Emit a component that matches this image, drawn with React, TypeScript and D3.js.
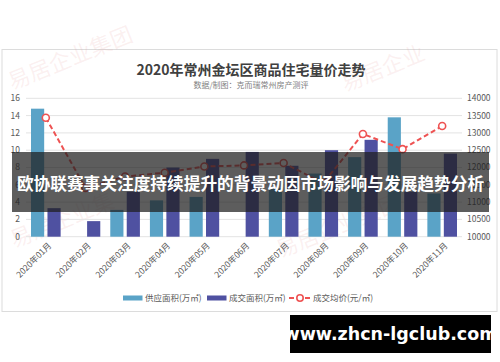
import { scaleBand, scaleLinear, line as d3line } from 'd3';

// 2020年常州金坛区商品住宅量价走势 — bars (万㎡) on the left axis, price line on the right.

const W = 500;
const H = 362;
const PLOT = { left: 26, right: 462, top: 98.3, bottom: 236.7 };

const MONTHS = ['2020年01月', '2020年02月', '2020年03月', '2020年04月', '2020年05月', '2020年06月',
  '2020年07月', '2020年08月', '2020年09月', '2020年10月', '2020年11月'];
const SUPPLY = [14.8, 0, 3.1, 4.2, 4.6, 0, 5.6, 7.3, 9.2, 13.8, 5.0];      // 供应面积(万㎡)
const DEAL   = [3.3, 1.8, 5.2, 8.0, 9.0, 9.8, 8.2, 10.0, 11.2, 5.2, 9.6];   // 成交面积(万㎡)
const PRICE  = [13440, 11410, 11740, 11850, 12030, 12060, 12130, 11550, 12970, 12530, 13200]; // 成交均价(元/㎡)
const LEFT_TICKS  = [0, 2, 4, 6, 8, 10, 12, 14, 16];
const RIGHT_TICKS = [10000, 10500, 11000, 11500, 12000, 12500, 13000, 13500, 14000];

const SUPPLY_COLOR = '#5aa3c7';
const DEAL_COLOR   = '#4f51a1';
const PRICE_COLOR  = '#ee5252';
const TEXT_COLOR   = '#595959';
const GRID_COLOR   = '#e3e3e3';
const FONT = "'Noto Sans CJK SC', 'Noto Sans', sans-serif";

export default function App() {
  const x = scaleBand<string>().domain(MONTHS).range([PLOT.left, PLOT.right]);
  const bw = x.bandwidth();
  const inner = scaleBand<string>().domain(['supply', 'deal']).range([5, bw - 5]).paddingInner(0.2);
  const yL = scaleLinear().domain([0, 16]).range([PLOT.bottom, PLOT.top]);
  const yR = scaleLinear().domain([10000, 14000]).range([PLOT.bottom, PLOT.top]);

  const cx = (m: string) => (x(m) ?? 0) + bw / 2;
  const pricePath = d3line<number>()
    .x((_, i) => cx(MONTHS[i]))
    .y((d) => yR(d))(PRICE) ?? '';

  return (
    <div style={{ position: 'absolute', left: 0, top: 0, width: W, height: H, background: '#fff' }}>
      <svg width={W} height={H} style={{ display: 'block', fontFamily: FONT }}>
        {/* card */}
        <rect x={2} y={49.5} width={495} height={262} fill="#fff" stroke="#dcdcdc" strokeWidth={1} />

        {/* watermarks */}
        <g fill="#e8a0a0" fillOpacity={0.16} fontSize={22} fontFamily={FONT}>
          <text transform="translate(12,90) rotate(-22)">易居企业集团</text>
          <text transform="translate(345,92) rotate(-22)">易居企业</text>
          <text transform="translate(14,248) rotate(-22)">易居企业集</text>
          <text transform="translate(280,258) rotate(-22)">易居企业集团</text>
        </g>

        <text x={251} y={75} textAnchor="middle" fontSize={14} fontWeight={700} fill="#404040">
          2020年常州金坛区商品住宅量价走势
        </text>
        <text x={251} y={87.5} textAnchor="middle" fontSize={8} fill="#7f7f7f">
          数据/制图：克而瑞常州房产测评
        </text>

        {/* grid + axes labels */}
        {LEFT_TICKS.map((t) => (
          <g key={t}>
            <line x1={PLOT.left} x2={PLOT.right} y1={yL(t)} y2={yL(t)} stroke={GRID_COLOR} strokeWidth={1} />
            <text x={20} y={yL(t)} dy="0.35em" textAnchor="end" fontSize={8.5} fill={TEXT_COLOR}>{t}</text>
          </g>
        ))}
        {RIGHT_TICKS.map((t) => (
          <text key={t} x={467} y={yR(t)} dy="0.35em" fontSize={8.5} fill={TEXT_COLOR}>{t}</text>
        ))}

        {/* bars */}
        {MONTHS.map((m, i) => (
          <g key={m}>
            <rect x={(x(m) ?? 0) + (inner('supply') ?? 0)} y={yL(SUPPLY[i])} width={inner.bandwidth()}
              height={yL(0) - yL(SUPPLY[i])} fill={SUPPLY_COLOR} />
            <rect x={(x(m) ?? 0) + (inner('deal') ?? 0)} y={yL(DEAL[i])} width={inner.bandwidth()}
              height={yL(0) - yL(DEAL[i])} fill={DEAL_COLOR} />
          </g>
        ))}

        {/* price line */}
        <path d={pricePath} fill="none" stroke={PRICE_COLOR} strokeWidth={2} strokeDasharray="5 3" />
        {PRICE.map((p, i) => (
          <circle key={i} cx={cx(MONTHS[i])} cy={yR(p)} r={3.5} fill="#fff" stroke={PRICE_COLOR} strokeWidth={1.6} />
        ))}

        {/* x labels */}
        {MONTHS.map((m) => (
          <text key={m} transform={`translate(${cx(m) + 4},${244}) rotate(-45)`} dy="0.35em"
            textAnchor="end" fontSize={8.5} fill={TEXT_COLOR}>{m}</text>
        ))}

        {/* legend */}
        <g fontSize={8.5} fill={TEXT_COLOR}>
          <rect x={123} y={295.5} width={19.5} height={5} fill={SUPPLY_COLOR} />
          <text x={145} y={298} dy="0.35em">供应面积(万㎡)</text>
          <rect x={207} y={295.5} width={19.5} height={5} fill={DEAL_COLOR} />
          <text x={229} y={298} dy="0.35em">成交面积(万㎡)</text>
          <line x1={289} x2={311} y1={298} y2={298} stroke={PRICE_COLOR} strokeWidth={2} strokeDasharray="5 3" />
          <circle cx={300} cy={298} r={3.2} fill="#fff" stroke={PRICE_COLOR} strokeWidth={1.6} />
          <text x={313} y={298} dy="0.35em">成交均价(元/㎡)</text>
        </g>

        {/* overlay banner */}
        <rect x={12} y={152} width={477} height={60} fill="#1e1e1e" fillOpacity={0.72} />
        <text x={250.5} y={184} dy="0.35em" textAnchor="middle" fontSize={16.7} fontWeight={700} fill="#fff">
          欧协联赛事关注度持续提升的背景动因市场影响与发展趋势分析
        </text>

        {/* site tag */}
        <rect x={290} y={315} width={201} height={38} fill="#000" />
        <text x={390.5} y={334} dy="0.35em" textAnchor="middle" fontSize={17.5} fontWeight={700} fill="#fff"
          fontFamily="'DejaVu Sans', sans-serif">
          www.zhcn-lgclub.com
        </text>
      </svg>
    </div>
  );
}
